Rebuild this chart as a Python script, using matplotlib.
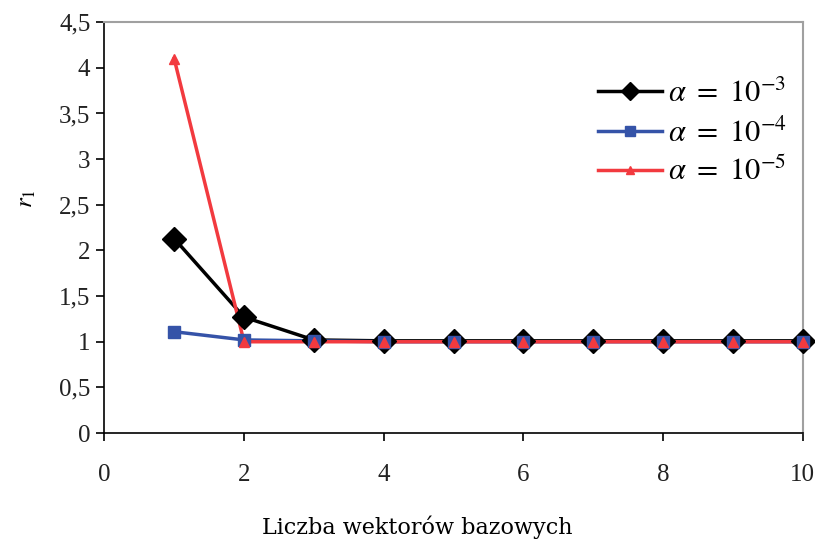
import matplotlib.pyplot as plt
from matplotlib.lines import Line2D

plt.rcParams['mathtext.fontset'] = 'stix'

x = [1, 2, 3, 4, 5, 6, 7, 8, 9, 10]
r_a3 = [2.13, 1.27, 1.02, 1.01, 1.01, 1.01, 1.01, 1.01, 1.01, 1.01]
r_a4 = [1.11, 1.02, 1.01, 1.0, 1.0, 1.0, 1.0, 1.0, 1.0, 1.0]
r_a5 = [4.1, 1.0, 1.0, 1.0, 1.0, 1.0, 1.0, 1.0, 1.0, 1.0]

labels = [r'$\alpha\ =\ 10^{-3}$', r'$\alpha\ =\ 10^{-4}$', r'$\alpha\ =\ 10^{-5}$']
colors = ['black', '#3553a8', '#f23a3f']
markers = ['D', 's', '^']
msizes = [12, 9, 7]

fig = plt.figure(figsize=(8.15, 5.4), dpi=100)
ax = fig.add_axes([0.128, 0.198, 0.857, 0.761])

series = [r_a3, r_a4, r_a5]
# lines first, markers on top (as in the original)
for y, c in zip(series, colors):
    ax.plot(x, y, color=c, lw=2.5, zorder=2, solid_joinstyle='miter')
for y, c, m, s in zip(series, colors, markers, msizes):
    ax.plot(x, y, ls='none', marker=m, color=c, markersize=s, zorder=3,
            clip_on=False)

ax.set_xlim(0, 10)
ax.set_ylim(0, 4.5)
ax.set_xticks(range(0, 11, 2))
ax.set_yticks([i * 0.5 for i in range(10)])
ax.set_yticklabels(['0', '0,5', '1', '1,5', '2', '2,5', '3', '3,5', '4', '4,5'])

for lab in ax.get_xticklabels() + ax.get_yticklabels():
    lab.set_fontfamily('Liberation Serif')
    lab.set_fontsize(18)
    lab.set_color('#222222')

ax.tick_params(direction='out', length=6, width=1.2, color='black')
ax.tick_params(axis='x', pad=16)
ax.tick_params(axis='y', pad=4)
for side in ['left', 'bottom']:
    ax.spines[side].set_linewidth(1.2)
for side in ['top', 'right']:
    ax.spines[side].set_color('#a0a0a0')
    ax.spines[side].set_linewidth(1.5)

ax.set_ylabel(r'$r_1$', fontsize=18)
ax.yaxis.set_label_coords(-0.095, 0.57)
ax.set_xlabel('Liczba wektorów bazowych', fontsize=16,
              fontfamily='DejaVu Serif')
ax.xaxis.set_label_coords(0.448, -0.2)

handles = [Line2D([], [], color=c, lw=2.5, marker=m, markersize=s * 0.75)
           for c, m, s in zip(colors, markers, msizes)]
ax.legend(handles, labels, loc='upper left', bbox_to_anchor=(0.685, 0.9),
          frameon=False, fontsize=22, handlelength=2.1, handletextpad=0.2,
          labelspacing=0.3, borderpad=0)

fig.savefig('out.png', dpi=100)
